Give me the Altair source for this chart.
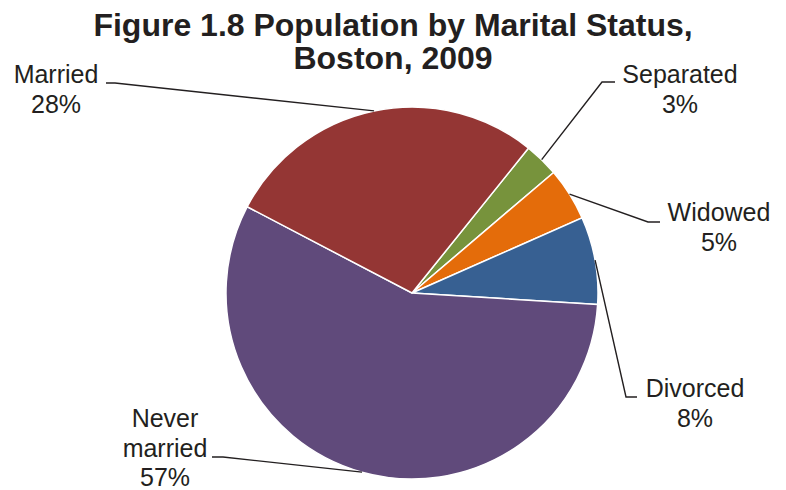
import math
import altair as alt
import pandas as pd

# ---- data ----
categories = ["Separated", "Widowed", "Divorced", "Never married", "Married"]
values = [3.0, 4.6, 7.6, 56.7, 28.1]
label_lines = [["Separated"], ["Widowed"], ["Divorced"], ["Never", "married"], ["Married"]]
colors = ["#77933C", "#E46C0A", "#376092", "#604A7B", "#943634"]

# ---- layout (pixels inside the plot area) ----
W, H = 770, 410
PAD_TOP = 72
OX, OY = 8, 8 + PAD_TOP          # page offset of plot origin
CX, CY, R = 412 - OX, 293 - OY, 186
START = math.radians(38.8)
# label centre x / first baseline y, leader end and elbow (page coords)
label_pos = {
    "Separated": (680, 83, 615, 602, 82),
    "Widowed": (719, 221, 660, 648, 222),
    "Divorced": (695, 397, 637, 626, 397),
    "Never married": (165, 427, 212, 223, 457),
    "Married": (56, 83, 106, 115, 83),
}

total = sum(values)
pie = pd.DataFrame({"cat": categories, "value": values, "idx": range(len(values))})

labels, leaders = [], []
cum = 0.0
for cat, v, lines in zip(categories, values, label_lines):
    mid = START + 2 * math.pi * (cum + v / 2) / total
    cum += v
    ex, ey = CX + R * math.sin(mid), CY - R * math.cos(mid)
    lx, ly, endx, elbx, leady = label_pos[cat]
    pct = f"{round(100 * v / total)}%"
    labels.append({"cat": cat, "x": lx - OX, "y": ly - OY, "text": "\n".join(lines + [pct])})
    for i, (px, py) in enumerate([(endx - OX, leady - OY), (elbx - OX, leady - OY), (ex, ey)]):
        leaders.append({"cat": cat, "seq": i, "x": px, "y": py})

labels = pd.DataFrame(labels)
leaders = pd.DataFrame(leaders)

arcs = alt.Chart(pie).mark_arc(outerRadius=R, stroke="white", strokeWidth=1.5).encode(
    x=alt.value(CX),
    y=alt.value(CY),
    theta=alt.Theta("value:Q", stack=True, scale=alt.Scale(range=[START, START + 2 * math.pi])),
    color=alt.Color("cat:N", scale=alt.Scale(domain=categories, range=colors), legend=None),
    order=alt.Order("idx:Q"),
)

lines_layer = alt.Chart(leaders).mark_line(color="#231F20", strokeWidth=1.4).encode(
    x=alt.X("x:Q", scale=None),
    y=alt.Y("y:Q", scale=None),
    detail="cat:N",
    order="seq:Q",
)

text_layer = alt.Chart(labels).mark_text(
    font="Liberation Sans", fontSize=25, color="#231F20", align="center",
    baseline="alphabetic", lineBreak="\n", lineHeight=29.5,
).encode(
    x=alt.X("x:Q", scale=None),
    y=alt.Y("y:Q", scale=None),
    text="text:N",
)

chart = alt.layer(arcs, lines_layer, text_layer).properties(
    width=W,
    height=H,
    title=alt.Title(
        ["Figure 1.8 Population by Marital Status,", "Boston, 2009"],
        font="Liberation Sans", fontSize=32, fontWeight="bold", color="#231F20",
        lineHeight=33, anchor="middle", offset=0, dy=13,
    ),
    autosize=alt.AutoSizeParams(type="none"),
    padding={"top": PAD_TOP, "left": 0, "right": 0, "bottom": 0},
).configure_view(stroke=None)

chart.save("out.html", embed_options={"renderer": "svg", "actions": False})
